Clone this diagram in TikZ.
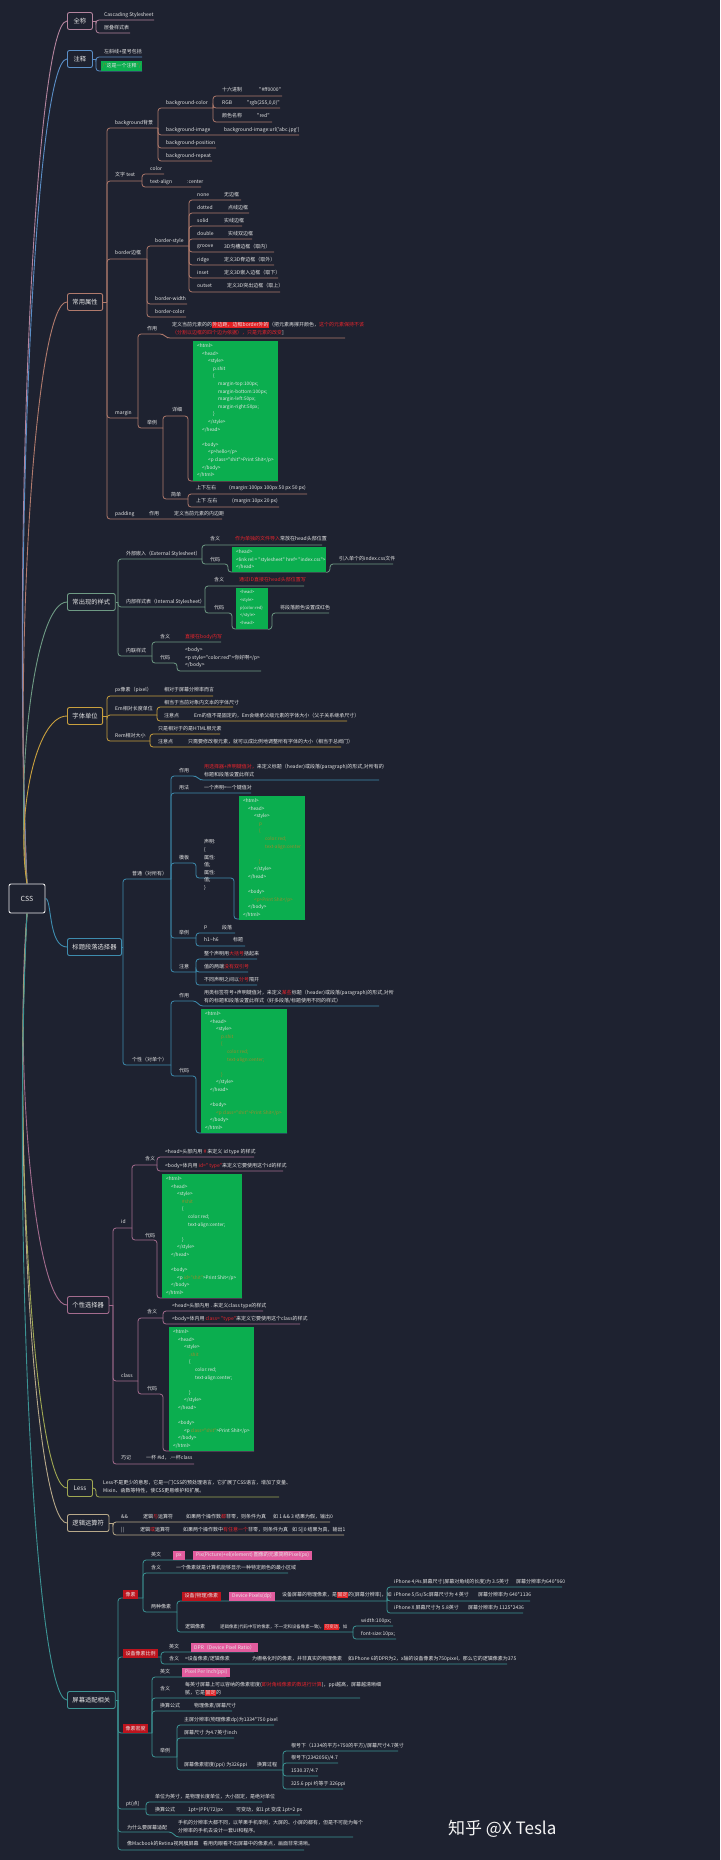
\documentclass[tikz,border=0pt]{standalone}
\usepackage{fontspec}
\newfontfamily\cjk{Noto Sans CJK SC}
\definecolor{bg}{HTML}{1E2230}
\definecolor{fg}{HTML}{E6E6E6}
\definecolor{tred}{HTML}{E8242C}
\definecolor{hlred}{HTML}{E01E22}
\definecolor{labred}{HTML}{BE141E}
\definecolor{pk}{HTML}{E25C9E}
\definecolor{gbox}{HTML}{0BAE4F}
\definecolor{ol}{HTML}{9C8A2C}
\definecolor{ca}{HTML}{B4849E}
\definecolor{cb}{HTML}{5A8EC6}
\definecolor{cc}{HTML}{B07A6C}
\definecolor{cd}{HTML}{6E9A84}
\definecolor{ce}{HTML}{C9A03E}
\definecolor{cf}{HTML}{3E8CAE}
\definecolor{cg}{HTML}{A46C8E}
\definecolor{ch}{HTML}{A0A852}
\definecolor{ci}{HTML}{B8A98A}
\definecolor{cj}{HTML}{3C9494}
\newcounter{nn}
\newcommand\mytx[3][]{\stepcounter{nn}\node[txt,#1] (t\thenn) at (#2) {#3};}
\newcommand\mycn[2]{\draw[ln] (#1) |- (#2);}
\newcommand\myhl[1]{{\setlength{\fboxsep}{0.5pt}\colorbox{hlred}{#1}}}
\newcommand\rd[1]{\textcolor{tred}{#1}}
\newcommand\olv[1]{\textcolor{ol}{#1}}
\newcommand\ind[1]{\hspace*{#1pt}}
\def\cfsize{4.7}
\newcommand\gcode[5]{%
  \node[fill=gbox,anchor=north west,minimum width=#3pt,minimum height=#4pt,inner sep=0pt] (#1) at (#2) {};
  \node[codetxt] (#1t) at ([shift={(4,2.5)}]#1.north west) {#5};}
\begin{document}
\begin{tikzpicture}[x=1pt,y=-1pt,
  txt/.style={anchor=west,inner sep=0pt,text=fg,font=\cjk\fontsize{5}{6}\selectfont},
  two/.style={align=left,font=\cjk\fontsize{5}{8}\selectfont},
  sec/.style={draw=#1,rounded corners=2pt,line width=0.9pt,fill=bg,text=fg,font=\cjk\fontsize{6.3}{7}\selectfont,minimum height=17pt,minimum width=25pt,inner xsep=5pt,anchor=west},
  curve/.style={line width=0.9pt},
  codetxt/.style={text=fg,align=left,inner sep=0pt,anchor=north west,font=\cjk\fontsize{\cfsize}{7.6}\selectfont},
  pkb/.style={fill=pk,text=fg,inner xsep=3pt,inner ysep=0pt,minimum height=9pt,font=\cjk\fontsize{5}{6}\selectfont,anchor=south west},
  lab/.style={fill=labred,text=fg,inner xsep=2.5pt,inner ysep=0pt,minimum height=9pt,font=\cjk\fontsize{5}{6}\selectfont,anchor=south west}]
\fill[bg] (0,0) rectangle (720,1860);
\useasboundingbox (0,0) rectangle (720,1860);

% root
\node[draw=fg!80,rounded corners=2pt,line width=0.9pt,fill=bg,text=fg,font=\cjk\fontsize{7}{8}\selectfont,minimum width=36pt,minimum height=29pt] (root) at (27,898.5) {CSS};

% section boxes
\node[sec=ca] (s1) at (67,21) {全称};
\node[sec=cb] (s2) at (67,59) {注释};
\node[sec=cc] (s3) at (67,302) {常用属性};
\node[sec=cd] (s4) at (67,602) {常出现的样式};
\node[sec=ce] (s5) at (67,716) {字体单位};
\node[sec=cf] (s6) at (67,947) {标题段落选择器};
\node[sec=cg] (s7) at (67,1305) {个性选择器};
\node[sec=ch] (s8) at (67,1488) {Less};
\node[sec=ci] (s9) at (67,1523) {逻辑运算符};
\node[sec=cj] (s10) at (67,1700) {屏幕适配相关};

% root curves
\draw[ca,curve] (root.north) .. controls (12,539) and (35,21) .. (s1.west);
\draw[cb,curve] (root.north) .. controls (13,554) and (35,59) .. (s2.west);
\draw[cc,curve] (root.north) .. controls (14,651) and (35,302) .. (s3.west);
\draw[cd,curve] (root.north) .. controls (15,771) and (35,602) .. (s4.west);
\draw[ce,curve] (root.north) .. controls (16,817) and (35,716) .. (s5.west);
\draw[cf,curve] (root.east) .. controls (52,898) and (48,947) .. (s6.west);
\draw[cg,curve] (root.south) .. controls (14,1070) and (35,1305) .. (s7.west);
\draw[ch,curve] (root.south) .. controls (13,1143) and (35,1488) .. (s8.west);
\draw[ci,curve] (root.south) .. controls (13,1157) and (35,1523) .. (s9.west);
\draw[cj,curve] (root.south) .. controls (12,1228) and (35,1700) .. (s10.west);

% ===== 全称
\begin{scope}[ln/.style={draw=ca,line width=0.8pt,rounded corners=3pt}]
\draw[ln] (s1.east) -- (96,21);
\mycn{96,21}{154,20}
\mycn{96,21}{130,33}
\mytx{104,15}{Cascading Stylesheet}
\mytx{104,28}{层叠样式表}
\end{scope}

% ===== 注释
\begin{scope}[ln/.style={draw=cb,line width=0.8pt,rounded corners=3pt}]
\draw[ln] (s2.east) -- (96,59);
\mycn{96,59}{142,57}
\mycn{96,59}{142,71}
\mytx{104,52}{左斜线+星号包括}
\node[fill=gbox,anchor=north west,minimum width=41pt,minimum height=10pt,inner sep=0pt,text=fg,font=\cjk\fontsize{5}{6}\selectfont] (g0) at (101,61) {\olv{/*}这是一个注释\olv{*/}};
\end{scope}

% ===== 常用属性
\begin{scope}[ln/.style={draw=cc,line width=0.8pt,rounded corners=3pt}]
\draw[ln] (s3.east) -- (107,302);
\mycn{107,302}{158,128}
\mycn{107,302}{142,181}
\mycn{107,302}{147,259}
\mycn{107,302}{138,418}
\mycn{107,302}{222,519}
\mytx{115,123}{background背景}
\mytx{115,175}{文字 text}
\mytx{115,253}{border边框}
\mytx{115,413}{margin}
\mytx{115,514}{padding}
\mytx{149,514}{作用}
\mytx{174,514}{定义当前元素的内边距}
% background
\mycn{158,128}{213,108}
\mycn{158,128}{299,135}
\mycn{158,128}{216,148}
\mycn{158,128}{212,161}
\mytx{166,103}{background-color}
\mytx{166,130}{background-image}
\mytx{224,130}{background-image:url('abc.jpg')}
\mytx{166,143}{background-position}
\mytx{166,156}{background-repeat}
\mycn{213,108}{282,96}
\mycn{213,108}{280,108}
\mycn{213,108}{272,122}
\mytx{222,90}{十六进制}
\mytx{259,90}{"\#ff0000"}
\mytx{222,103}{RGB}
\mytx{247,103}{"rgb(255,0,0)"}
\mytx{222,116}{颜色名称}
\mytx{257,116}{"red"}
% text
\mycn{142,181}{164,174}
\mycn{142,181}{201,187}
\mytx{150,169}{color}
\mytx{150,182}{text-align}
\mytx{187,182}{:center}
% border
\mycn{147,259}{189,246}
\mycn{147,259}{187,304}
\mycn{147,259}{186,317}
\mytx{155,241}{border-style}
\mytx{155,299}{border-width}
\mytx{155,312}{border-color}
\mycn{189,246}{241,200}
\mycn{189,246}{249,213}
\mycn{189,246}{242,226}
\mycn{189,246}{252,239}
\mycn{189,246}{274,252}
\mycn{189,246}{274,265}
\mycn{189,246}{278,278}
\mycn{189,246}{280,292}
\mytx{197,195}{none}\mytx{224,195}{无边框}
\mytx{197,208}{dotted}\mytx{228,208}{点线边框}
\mytx{197,221}{solid}\mytx{224,221}{实线边框}
\mytx{197,234}{double}\mytx{228,234}{实线双边框}
\mytx{197,247}{groove}\mytx{224,247}{3D沟槽边框（取内）}
\mytx{197,260}{ridge}\mytx{224,260}{定义3D脊边框（取外）}
\mytx{197,273}{inset}\mytx{224,273}{定义3D嵌入边框（取下）}
\mytx{197,286}{outset}\mytx{227,286}{定义3D突出边框（取上）}
% margin
\draw[ln] (138,418) |- (163,334) -- (167,338) -- (345,338);
\mycn{138,418}{163,428}
\mytx{147,329}{作用}
\mytx{147,423}{举例}
\mytx[two]{172,329}{定义当前元素的的\myhl{外边距，边框border外的}（把元素再撑开颜色，\rd{这个的元素保持不该}\\\rd{（分割以边框的四个边为依据），只是元素的改变}]}
\draw[ln] (163,428) |- (188,416) |- (278,481);
\mycn{163,428}{188,499}
\mytx{172,410}{详细}
\mytx{171,495}{简单}
\gcode{g1}{193,341}{85}{140}{<html>\\
\ind{5}<head>\\
\ind{11}<style>\\
\ind{16}p.shit\\
\ind{16}\{\\
\ind{21}margin-top:100px;\\
\ind{21}margin-bottom:100px;\\
\ind{21}margin-left:50px;\\
\ind{21}margin-right:50px;\\
\ind{16}\}\\
\ind{11}</style>\\
\ind{5}</head>\\
\mbox{}\\
\ind{5}<body>\\
\ind{11}<p>hello</p>\\
\ind{11}<p class="shit">Print Shit</p>\\
\ind{5}</body>\\
</html>}
\mycn{188,499}{307,494}
\mycn{188,499}{279,507}
\mytx{196,488}{上下左右}
\mytx{229,488}{(margin:100px 100px 50 px 50 px)}
\mytx{196,501}{上下 左右}
\mytx{232,501}{(margin:10px 20 px)}
\end{scope}

% ===== 常出现的样式
\begin{scope}[ln/.style={draw=cd,line width=0.8pt,rounded corners=3pt}]
\draw[ln] (s4.east) -- (118,602);
\mycn{118,602}{202,559}
\mycn{118,602}{205,607}
\mycn{118,602}{152,656}
\mytx{126,554}{外部嵌入（External Stylesheet）}
\mytx{126,602}{内部样式表（Internal Stylesheet）}
\mytx{126,651}{内联样式}
\mycn{202,559}{322,545}
\draw[ln] (202,559) |- (228,564) |- (326,572);
\mytx{210,539}{含义}
\mytx{235,539}{\rd{作为单独的文件导入}常放在head头部位置}
\mytx{210,560}{代码}
\gcode{g2}{232,547}{94}{25}{<head>\\<link rel = "stylesheet" href= "index.css">\\</head>}
\draw[ln] (g2.south east) -- (330,572) |- (393,564);
\mytx{339,559}{引入单个的index.css文件}
\mycn{205,607}{304,586}
\draw[ln] (205,607) |- (232,613) |- (268,629);
\mytx{214,580}{含义}
\mytx{239,580}{\rd{通过ID直接在head头部位置写}}
\mytx{214,608}{代码}
\def\cfsize{4.1}
\gcode{g3}{236,588}{32}{41}{<head>\\<style>\\p\{color:red\}\\</style>\\<head>}
\def\cfsize{4.7}
\draw[ln] (g3.south east) -- (272,629) |- (329,613);
\mytx{280,608}{将段落颜色设置成红色}
\mycn{152,656}{221,642}
\draw[ln] (152,656) |- (177,663) |- (261,671);
\mytx{160,637}{含义}
\mytx{185,637}{\rd{直接在body内写}}
\mytx{160,658}{代码}
\mytx[align=left,font=\cjk\fontsize{5}{7.5}\selectfont]{185,658}{<body>\\<p style="color:red">你好啊</p>\\</body>}
\end{scope}

% ===== 字体单位
\begin{scope}[ln/.style={draw=ce,line width=0.8pt,rounded corners=3pt}]
\draw[ln] (s5.east) -- (107,716);
\mycn{107,716}{213,696}
\mycn{107,716}{157,715}
\mycn{107,716}{150,741}
\mytx{115,690}{px像素（pixel）}
\mytx{164,690}{相对于屏幕分辨率而言}
\mytx{115,709}{Em相对长度单位}
\mytx{115,736}{Rem相对大小}
\mycn{157,715}{233,707}
\mycn{157,715}{347,721}
\mytx{164,703}{相当于当前对象内文本的字体尺寸}
\mytx{164,716}{注意点}
\mytx{194,716}{Em的值不是固定的，Em会继承父级元素的字体大小（父子关系继承尺寸）}
\mycn{150,741}{220,734}
\mycn{150,741}{341,747}
\mytx{158,729}{只是相对于的是HTML根元素}
\mytx{158,742}{注意点}
\mytx{188,742}{只需要修改根元素，就可以成比例地调整所有字体的大小（相当于总阀门）}
\end{scope}

% ===== 标题段落选择器
\begin{scope}[ln/.style={draw=cf,line width=0.8pt,rounded corners=3pt}]
\draw[ln] (s6.east) -- (123,947);
\mycn{123,947}{171,879}
\mycn{123,947}{171,1065}
\mytx{132,874}{普通（对所有）}
\mytx{132,1060}{个性（对单个）}
\draw[ln] (171,879) |- (196,776) -- (200,780) -- (379,780);
\mycn{171,879}{251,793}
\draw[ln] (171,879) |- (196,863) |- (234,878) |- (305,919);
\mycn{171,879}{196,938}
\mycn{171,879}{196,972}
\mytx{179,771}{作用}
\mytx[two]{204,771}{\rd{用选择器+声明键值对，}来定义标题（header)或段落(paragraph)的形式,对所有的\\标题和段落设置此样式}
\mytx{179,788}{用法}
\mytx{204,788}{一个声明=一个键值对}
\mytx{179,858}{模板}
\mytx[align=left,font=\cjk\fontsize{5}{7.6}\selectfont]{204,865}{声明:\\\{\\属性:\\值;\\属性:\\值;\\\}}
\gcode{g4}{239,796}{66}{124}{<html>\\
\ind{5}<head>\\
\ind{11}<style>\\
\ind{16}\olv{p}\\
\ind{16}\olv{\{}\\
\ind{22}\olv{color:red;}\\
\ind{22}\olv{text-align:center}\\
\mbox{}\\
\ind{16}\olv{\}}\\
\ind{11}</style>\\
\ind{5}</head>\\
\mbox{}\\
\ind{5}<body>\\
\ind{11}\olv{<p>Print Shit</p>}\\
\ind{5}</body>\\
</html>}
\mytx{179,933}{举例}
\mycn{196,938}{235,933}
\mycn{196,938}{245,946}
\mytx{204,928}{p}\mytx{222,928}{段落}
\mytx{204,940}{h1\textasciitilde h6}\mytx{233,940}{标题}
\mytx{179,967}{注意}
\mycn{196,972}{257,959}
\mycn{196,972}{248,972}
\mycn{196,972}{257,985}
\mytx{204,954}{整个声明用\rd{大括号}括起来}
\mytx{204,967}{值的两端\rd{没有双引号}}
\mytx{204,980}{不同声明之间以\rd{分号}隔开}
\draw[ln] (171,1065) |- (196,1001) -- (200,1006) -- (379,1006);
\draw[ln] (171,1065) |- (196,1076) |- (287,1133);
\mytx{179,996}{作用}
\mytx[two]{204,997}{用类标签符号+声明键值对，来定义\rd{某些}标题（header)或段落(paragraph)的形式,对所\\有的标题和段落设置此样式（好多段落/标题使用不同的样式）}
\mytx{179,1071}{代码}
\gcode{g5}{201,1009}{86}{124}{<html>\\
\ind{5}<head>\\
\ind{11}<style>\\
\ind{16}\olv{p.shit}\\
\ind{16}\olv{\{}\\
\ind{22}\olv{color:red;}\\
\ind{22}\olv{text-align:center;}\\
\mbox{}\\
\ind{16}\olv{\}}\\
\ind{11}</style>\\
\ind{5}</head>\\
\mbox{}\\
\ind{5}<body>\\
\ind{11}\olv{<p class="shit">Print Shit</p>}\\
\ind{5}</body>\\
</html>}
\end{scope}

% ===== 个性选择器
\begin{scope}[ln/.style={draw=cg,line width=0.8pt,rounded corners=3pt}]
\draw[ln] (s7.east) -- (113,1305);
\mycn{113,1305}{132,1228}
\mycn{113,1305}{138,1381}
\mycn{113,1305}{194,1464}
\mytx{121,1222}{id}
\mytx{121,1376}{class}
\mytx{121,1458}{巧记}
\mytx{146,1458}{一杯 \#id，.一杯class}
\mycn{132,1228}{157,1165}
\draw[ln] (132,1228) |- (157,1240) |- (242,1298);
\mytx{145,1159}{含义}
\mytx{145,1236}{代码}
\mycn{157,1165}{254,1157}
\mycn{157,1165}{283,1171}
\mytx{165,1152}{<head>头部内用 \rd{\#} 来定义 id type 的样式}
\mytx{165,1166}{<body>体内用 \rd{id=" type"}来定义它要使用这个id的样式}
\gcode{g6}{162,1174}{80}{124}{<html>\\
\ind{5}<head>\\
\ind{11}<style>\\
\ind{16}\olv{\#shit}\\
\ind{16}\{\\
\ind{22}color:red;\\
\ind{22}text-align:center;\\
\mbox{}\\
\ind{16}\}\\
\ind{11}</style>\\
\ind{5}</head>\\
\mbox{}\\
\ind{5}<body>\\
\ind{11}<p \olv{id="shit"}>Print Shit</p>\\
\ind{5}</body>\\
</html>}
\mycn{138,1381}{163,1318}
\draw[ln] (138,1381) |- (163,1394) |- (254,1451);
\mytx{147,1312}{含义}
\mytx{147,1389}{代码}
\mycn{163,1318}{263,1311}
\mycn{163,1318}{300,1324}
\mytx{172,1306}{<head>头部内用 . 来定义class type的样式}
\mytx{172,1319}{<body>体内用 \rd{class= "type"}来定义它要使用这个class的样式}
\gcode{g7}{169,1327}{85}{124}{<html>\\
\ind{5}<head>\\
\ind{11}<style>\\
\ind{16}\olv{.shit}\\
\ind{16}\{\\
\ind{22}color:red;\\
\ind{22}text-align:center;\\
\mbox{}\\
\ind{16}\}\\
\ind{11}</style>\\
\ind{5}</head>\\
\mbox{}\\
\ind{5}<body>\\
\ind{11}<p \olv{class="shit"}>Print Shit</p>\\
\ind{5}</body>\\
</html>}
\end{scope}

% ===== Less
\begin{scope}[ln/.style={draw=ch,line width=0.8pt,rounded corners=3pt}]
\draw[ln] (s8.east) -- (96,1488) |- (279,1497);
\mytx[two]{103,1487}{Less不是更少的意思，它是一门CSS的预处理语言，它扩展了CSS语言，增加了变量、\\Mixin、函数等特性，使CSS更易维护和扩展。}
\end{scope}

% ===== 逻辑运算符
\begin{scope}[ln/.style={draw=ci,line width=0.8pt,rounded corners=3pt}]
\draw[ln] (s9.east) -- (113,1523);
\mycn{113,1523}{330,1522}
\mycn{113,1523}{344,1535}
\mytx{121,1517}{\&\&}
\mytx{143,1517}{逻辑\rd{与}运算符}
\mytx{186,1517}{如果两个操作数\rd{都}非零，则条件为真}
\mytx{273,1517}{如 1 \&\& 3 结果为假，输出0}
\mytx{121,1530}{||}
\mytx{140,1530}{逻辑\rd{或}运算符}
\mytx{183,1530}{如果两个操作数中\rd{有任意一个}非零，则条件为真}
\mytx{292,1530}{如 5||0 结果为真，输出1}
\end{scope}

% ===== 屏幕适配相关
\begin{scope}[ln/.style={draw=cj,line width=0.8pt,rounded corners=3pt}]
\draw[ln] (s10.east) -- (118,1700);
\mycn{118,1700}{143,1598}
\mycn{118,1700}{161,1657}
\mycn{118,1700}{152,1733}
\mycn{118,1700}{146,1809}
\draw[ln] (118,1700) |- (172,1832) -- (176,1837) -- (353,1837);
\mycn{118,1700}{304,1850}
\node[lab] (l1) at (123,1599) {像素};
\node[lab] (l2) at (123,1658) {设备像素比例};
\node[lab] (l3) at (123,1733) {像素密度};
% 像素
\mycn{143,1598}{300,1560}
\mycn{143,1598}{288,1573}
\mycn{143,1598}{177,1612}
\mytx{151,1555}{英文}
\node[pkb] (p1) at (173,1560) {px};
\node[pkb] (p2) at (193,1560) {Pix(Picture)+el(element) 图像的元素简称Pixel(px)};
\mytx{151,1568}{含义}
\mytx{176,1568}{一个像素就是计算机能够显示一种特定颜色的最小区域}
\mytx{151,1607}{两种像素}
\mycn{177,1612}{387,1601}
\mycn{177,1612}{353,1632}
\node[lab] (l4) at (182,1601) {设备(物理)像素};
\node[pkb] (p3) at (229,1601) {Device Pixels(dp)};
\mytx{282,1595}{设备屏幕的物理像素，是\myhl{固定}的(屏幕分辨率)，如}
\mycn{387,1601}{562,1587}
\mycn{387,1601}{530,1601}
\mycn{387,1601}{523,1613}
\mytx{394,1582}{iPhone 4/4s 屏幕尺寸(屏幕对角线的长度)为 3.5英寸}
\mytx{516,1582}{屏幕分辨率为640*960}
\mytx{394,1595}{iPhone 5/5s/5c屏幕尺寸为 4 英寸}
\mytx{478,1595}{屏幕分辨率为 640*1136}
\mytx{394,1608}{iPhone X 屏幕尺寸为 5.8英寸}
\mytx{468,1608}{屏幕分辨率为 1125*2436}
\mytx{185,1627}{逻辑像素}
\mytx[font=\cjk\fontsize{4.4}{5}\selectfont]{220,1627}{逻辑像素(代码中写的像素，不一定和设备像素一致)，\myhl{可变动}，如}
\mycn{353,1632}{393,1626}
\mycn{353,1632}{396,1639}
\mytx{361,1621}{width:100px;}
\mytx{361,1634}{font-size:10px;}
% 设备像素比例
\mycn{161,1657}{254,1652}
\mycn{161,1657}{507,1664}
\mytx{169,1647}{英文}
\node[pkb] (p4) at (191,1652) {DPR（Device Pixel Ratio）};
\mytx{169,1659}{含义}
\mytx{185,1659}{=设备像素/逻辑像素}
\mytx{252,1659}{为栅格化时的像素，并非真实的物理像素}
\mytx{348,1659}{如iPhone 6的DPR为2，x轴的设备像素为750pixel，那么它的逻辑像素为375}
% 像素密度
\mycn{152,1733}{226,1677}
\mycn{152,1733}{360,1698}
\mycn{152,1733}{232,1711}
\mycn{152,1733}{177,1757}
\mytx{160,1672}{英文}
\node[pkb] (p5) at (182,1677) {Pixel Per Inch(ppi)};
\mytx{160,1689}{含义}
\mytx[two]{185,1689}{每英寸屏幕上可以容纳的像素密度(\rd{即对角线像素的数进行计算})，ppi越高，屏幕越清晰细\\腻，它是\myhl{固定}的}
\mytx{160,1706}{换算公式}
\mytx{194,1706}{物理像素/屏幕尺寸}
\mytx{160,1751}{举例}
\mycn{177,1757}{274,1725}
\mycn{177,1757}{234,1738}
\mycn{177,1757}{283,1770}
\mytx{184,1720}{主屏分辨率(物理像素dp)为1334*750 pixel}
\mytx{184,1733}{屏幕尺寸 为4.7英寸inch}
\mytx{184,1765}{屏幕像素密度(ppi) 为326ppi}
\mytx{257,1765}{换算过程}
\mycn{283,1770}{398,1751}
\mycn{283,1770}{338,1763}
\mycn{283,1770}{318,1776}
\mycn{283,1770}{343,1789}
\mytx{291,1746}{根号下（1334的平方+750的平方)/屏幕尺寸4.7英寸}
\mytx{291,1758}{根号下(2342056)/4.7}
\mytx{291,1771}{1530.37/4.7}
\mytx{291,1784}{325.6 ppi 约等于 326ppi}
% pt
\mytx{126,1804}{pt(点)}
\mycn{146,1809}{262,1802}
\mycn{146,1809}{300,1815}
\mytx{155,1797}{单位为英寸，是物理长度单位，大小固定，是绝对单位}
\mytx{155,1810}{换算公式}
\mytx{188,1810}{1pt=(PPI/72)px}
\mytx{236,1810}{可变动，如1 pt 变成 1pt=2 px}
\mytx{127,1828}{为什么要屏幕适配}
\mytx[two]{178,1827}{手机的分辨率大都不同，以苹果手机举例，大屏的、小屏的都有，但是不可能为每个\\分辨率的手机去设计一套UI和程序。}
\mytx{127,1844}{像Macbook的Retina视网膜屏幕}
\mytx{203,1844}{看用肉眼看不出屏幕中的像素点，画面非常清晰。}
\end{scope}

\node[anchor=west,inner sep=0pt,text=white!92!gray,font=\cjk\fontsize{17}{18}\selectfont] (wm) at (448,1829) {知乎 @X Tesla};
\end{tikzpicture}
\end{document}
